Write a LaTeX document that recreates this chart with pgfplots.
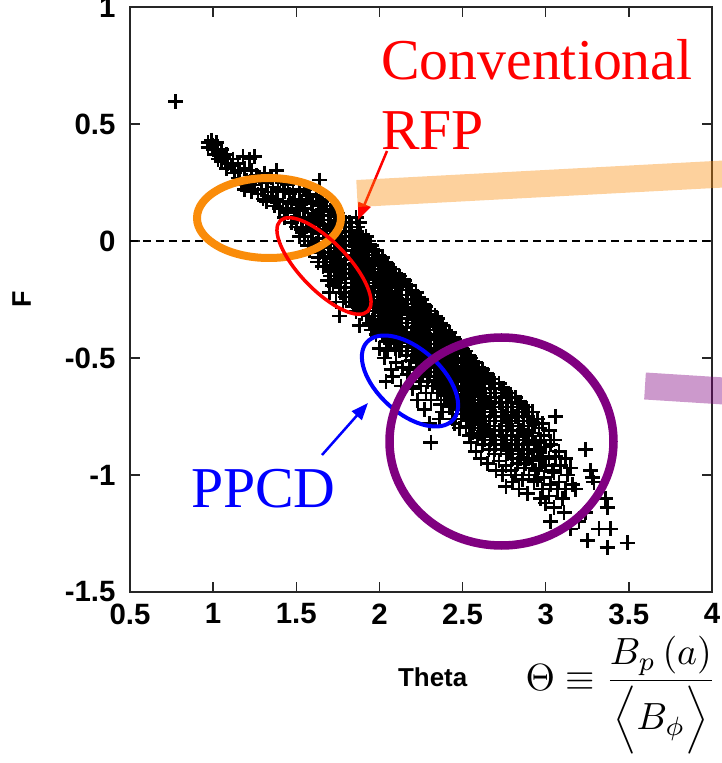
\documentclass[border=0pt]{standalone}
\usepackage{graphicx}
\usepackage{pgfplots}
\pgfplotsset{compat=1.18}
\usetikzlibrary{arrows.meta}
\usepackage{fontspec}
\setmainfont{Liberation Serif}
\newfontfamily\hv{Liberation Sans}
\definecolor{myorange}{RGB}{250,140,10}
\definecolor{mypurple}{RGB}{128,0,128}
\begin{document}
\begin{tikzpicture}[x=1bp,y=1bp]
\begin{axis}[
  name=ax, at={(0,0)}, anchor=south west,
  scale only axis, width=582bp, height=585bp,
  xmin=0.5, xmax=4, ymin=-1.5, ymax=1,
  xtick={0.5,1,1.5,2,2.5,3,3.5,4},
  ytick={-1.5,-1,-0.5,0,0.5,1},
  tick align=inside, major tick length=10bp,
  axis line style={line width=1.6bp, black!85},
  every tick/.style={line width=1.4bp, black!85},
  /pgf/number format/assume math mode=true,
  ticklabel style={font=\hv\bfseries\fontsize{29.5}{29.5}\selectfont},
  yticklabel style={xshift=-11bp},
  xticklabel style={yshift=-8bp},
  xlabel={Theta}, ylabel={F},
  xlabel style={font=\hv\bfseries\fontsize{26}{26}\selectfont, at={(axis description cs:0.52,-0.145)}, anchor=center},
  ylabel style={font=\hv\bfseries\fontsize{27}{27}\selectfont, at={(axis description cs:-0.186,0.5)}, anchor=center},
  clip=false,
]
\addplot[black, line width=1.3bp, dash pattern=on 8bp off 5bp] coordinates {(0.5,0) (4,0)};
\addplot[only marks, mark=+, mark size=7.5bp, mark options={line width=2.6bp, black}] coordinates {
(0.775,0.595)
(0.97,0.42) (0.97,0.40) (0.99,0.43)
(1.00,0.41) (1.00,0.39) (1.01,0.37)
(1.02,0.42) (1.03,0.38) (1.03,0.35)
(1.05,0.39) (1.06,0.36) (1.05,0.34)
(1.08,0.37) (1.09,0.33) (1.08,0.31)
(1.12,0.35) (1.11,0.32) (1.13,0.29)
(1.15,0.33) (1.16,0.30) (1.15,0.27) (1.17,0.24)
(1.18,0.36) (1.19,0.31) (1.20,0.26) (1.19,0.22)
(1.22,0.35) (1.23,0.30) (1.22,0.25) (1.23,0.21)
(1.25,0.36) (1.26,0.28) (1.25,0.24) (1.27,0.20)
(1.28,0.27) (1.29,0.22) (1.30,0.18)
(1.31,0.29) (1.32,0.25) (1.33,0.21) (1.32,0.17)
(1.35,0.27) (1.36,0.23) (1.35,0.19) (1.37,0.15)
(1.38,0.30) (1.39,0.22) (1.38,0.18) (1.40,0.14)
(1.42,0.25) (1.43,0.21) (1.42,0.17) (1.44,0.13) (1.43,0.10)
(1.45,0.24) (1.46,0.20) (1.47,0.16) (1.45,0.12) (1.47,0.08)
(1.48,0.22) (1.49,0.18) (1.50,0.14) (1.49,0.10) (1.50,0.06)
(1.52,0.21) (1.53,0.17) (1.52,0.13) (1.54,0.09) (1.53,0.05) (1.52,0.02)
(1.55,0.22) (1.56,0.18) (1.55,0.14) (1.57,0.10) (1.56,0.06) (1.55,0.02) (1.57,-0.02)
(1.58,0.20) (1.59,0.16) (1.60,0.12) (1.58,0.08) (1.60,0.04) (1.59,0.00) (1.58,-0.04)
(1.62,0.19) (1.63,0.15) (1.62,0.11) (1.64,0.07) (1.63,0.03) (1.62,-0.01) (1.64,-0.05) (1.63,-0.09)
(1.64,0.26) (1.65,0.17) (1.66,0.13) (1.65,0.09) (1.67,0.05) (1.66,0.01) (1.65,-0.03) (1.67,-0.07) (1.66,-0.11)
(1.68,0.15) (1.69,0.11) (1.70,0.07) (1.68,0.03) (1.70,-0.01) (1.69,-0.05) (1.68,-0.09) (1.70,-0.13) (1.69,-0.17) (1.70,-0.22)
(1.72,0.13) (1.73,0.09) (1.72,0.05) (1.74,0.01) (1.73,-0.03) (1.72,-0.07) (1.74,-0.11) (1.73,-0.15) (1.72,-0.19)
(1.75,0.12) (1.76,0.08) (1.77,0.04) (1.75,0.00) (1.77,-0.04) (1.76,-0.08) (1.75,-0.12) (1.77,-0.16) (1.76,-0.20) (1.74,-0.26)
(1.78,0.10) (1.79,0.06) (1.80,0.02) (1.78,-0.02) (1.80,-0.06) (1.79,-0.10) (1.78,-0.14) (1.80,-0.18) (1.79,-0.22) (1.78,-0.26) (1.76,-0.32)
(1.82,0.08) (1.83,0.04) (1.82,0.00) (1.84,-0.04) (1.83,-0.08) (1.82,-0.12) (1.84,-0.16) (1.83,-0.20) (1.82,-0.24) (1.84,-0.28)
(1.86,0.10) (1.87,0.06) (1.85,0.02) (1.87,-0.02) (1.86,-0.06) (1.85,-0.10) (1.87,-0.14) (1.86,-0.18) (1.85,-0.22) (1.87,-0.26) (1.86,-0.30)
(1.88,0.08) (1.89,0.03) (1.90,-0.01) (1.88,-0.05) (1.90,-0.09) (1.89,-0.13) (1.88,-0.17) (1.90,-0.21) (1.89,-0.25) (1.88,-0.29) (1.88,-0.36)
(1.92,0.02) (1.93,-0.02) (1.92,-0.06) (1.94,-0.10) (1.93,-0.14) (1.92,-0.18) (1.94,-0.22) (1.93,-0.26) (1.92,-0.30) (1.94,-0.35)
(1.95,-0.02) (1.96,-0.06) (1.97,-0.10) (1.95,-0.14) (1.97,-0.18) (1.96,-0.22) (1.95,-0.26) (1.97,-0.30) (1.96,-0.34) (1.95,-0.38)
(1.98,-0.04) (1.99,-0.08) (2.00,-0.12) (1.98,-0.16) (2.00,-0.20) (1.99,-0.24) (1.98,-0.28) (2.00,-0.32) (1.99,-0.36) (1.98,-0.40) (2.00,-0.46)
(2.02,-0.07) (2.03,-0.11) (2.02,-0.15) (2.04,-0.19) (2.03,-0.23) (2.02,-0.27) (2.04,-0.31) (2.03,-0.35) (2.02,-0.39) (2.04,-0.43) (2.03,-0.50) (2.04,-0.60)
(2.05,-0.10) (2.06,-0.14) (2.07,-0.18) (2.05,-0.22) (2.07,-0.26) (2.06,-0.30) (2.05,-0.34) (2.07,-0.38) (2.06,-0.42) (2.05,-0.47) (2.07,-0.55)
(2.08,-0.12) (2.09,-0.16) (2.10,-0.20) (2.08,-0.24) (2.10,-0.28) (2.09,-0.32) (2.08,-0.36) (2.10,-0.40) (2.09,-0.44) (2.10,-0.52) (2.08,-0.58)
(2.12,-0.15) (2.13,-0.19) (2.12,-0.23) (2.14,-0.27) (2.13,-0.31) (2.12,-0.35) (2.14,-0.39) (2.13,-0.43) (2.12,-0.47) (2.14,-0.54) (2.13,-0.62)
(2.15,-0.17) (2.16,-0.21) (2.17,-0.25) (2.15,-0.29) (2.17,-0.33) (2.16,-0.37) (2.15,-0.41) (2.17,-0.45) (2.16,-0.49) (2.17,-0.57)
(2.18,-0.19) (2.19,-0.23) (2.20,-0.27) (2.18,-0.31) (2.20,-0.35) (2.19,-0.39) (2.18,-0.43) (2.20,-0.47) (2.19,-0.51) (2.18,-0.55) (2.20,-0.63)
(2.22,-0.22) (2.23,-0.26) (2.22,-0.30) (2.24,-0.34) (2.23,-0.38) (2.22,-0.42) (2.24,-0.46) (2.23,-0.50) (2.22,-0.54) (2.24,-0.60) (2.23,-0.68)
(2.25,-0.25) (2.26,-0.29) (2.27,-0.33) (2.25,-0.37) (2.27,-0.41) (2.26,-0.45) (2.25,-0.49) (2.27,-0.53) (2.26,-0.57) (2.25,-0.62) (2.27,-0.72)
(2.28,-0.28) (2.29,-0.32) (2.30,-0.36) (2.28,-0.40) (2.30,-0.44) (2.29,-0.48) (2.28,-0.52) (2.30,-0.56) (2.29,-0.60) (2.28,-0.65) (2.30,-0.78)
(2.31,-0.30) (2.32,-0.34) (2.33,-0.38) (2.31,-0.42) (2.33,-0.46) (2.32,-0.50) (2.31,-0.54) (2.33,-0.58) (2.32,-0.62) (2.31,-0.68) (2.31,-0.86)
(2.35,-0.33) (2.36,-0.37) (2.35,-0.41) (2.37,-0.45) (2.36,-0.49) (2.35,-0.53) (2.37,-0.57) (2.36,-0.61) (2.35,-0.65) (2.37,-0.70) (2.36,-0.76)
(2.38,-0.36) (2.39,-0.40) (2.40,-0.44) (2.38,-0.48) (2.40,-0.52) (2.39,-0.56) (2.38,-0.60) (2.40,-0.64) (2.39,-0.68) (2.38,-0.73)
(2.42,-0.39) (2.43,-0.43) (2.42,-0.47) (2.44,-0.51) (2.43,-0.55) (2.42,-0.59) (2.44,-0.63) (2.43,-0.67) (2.42,-0.71) (2.44,-0.76)
(2.45,-0.42) (2.46,-0.46) (2.47,-0.50) (2.45,-0.54) (2.47,-0.58) (2.46,-0.62) (2.45,-0.66) (2.47,-0.70) (2.46,-0.74) (2.45,-0.78)
(2.48,-0.44) (2.49,-0.48) (2.50,-0.52) (2.48,-0.56) (2.50,-0.60) (2.49,-0.64) (2.48,-0.68) (2.50,-0.72) (2.49,-0.76) (2.48,-0.80)
(2.52,-0.47) (2.53,-0.51) (2.52,-0.55) (2.54,-0.59) (2.53,-0.63) (2.52,-0.67) (2.54,-0.71) (2.53,-0.75) (2.52,-0.79) (2.54,-0.83)
(2.55,-0.50) (2.56,-0.54) (2.57,-0.58) (2.55,-0.62) (2.57,-0.66) (2.56,-0.70) (2.55,-0.74) (2.57,-0.78) (2.56,-0.82) (2.55,-0.86)
(2.58,-0.52) (2.59,-0.56) (2.60,-0.60) (2.58,-0.64) (2.60,-0.68) (2.59,-0.72) (2.58,-0.76) (2.60,-0.80) (2.59,-0.84) (2.58,-0.90)
(2.62,-0.55) (2.63,-0.59) (2.62,-0.63) (2.64,-0.67) (2.63,-0.71) (2.62,-0.75) (2.64,-0.79) (2.63,-0.83) (2.62,-0.87) (2.61,-0.93)
(2.65,-0.57) (2.66,-0.61) (2.67,-0.65) (2.65,-0.69) (2.67,-0.73) (2.66,-0.77) (2.65,-0.81) (2.67,-0.85) (2.66,-0.89) (2.65,-0.95)
(2.68,-0.59) (2.69,-0.63) (2.70,-0.67) (2.68,-0.71) (2.70,-0.75) (2.69,-0.79) (2.68,-0.83) (2.70,-0.87) (2.69,-0.91) (2.70,-0.98)
(2.72,-0.61) (2.73,-0.65) (2.72,-0.69) (2.74,-0.73) (2.73,-0.77) (2.72,-0.81) (2.74,-0.85) (2.73,-0.89) (2.72,-0.94) (2.74,-1.00)
(2.75,-0.63) (2.76,-0.67) (2.77,-0.71) (2.75,-0.75) (2.77,-0.79) (2.76,-0.83) (2.75,-0.87) (2.77,-0.91) (2.76,-0.96) (2.76,-1.05)
(2.78,-0.65) (2.79,-0.69) (2.80,-0.73) (2.78,-0.77) (2.80,-0.81) (2.79,-0.85) (2.78,-0.89) (2.80,-0.93) (2.79,-0.98) (2.80,-1.03)
(2.82,-0.67) (2.83,-0.71) (2.82,-0.75) (2.84,-0.79) (2.83,-0.83) (2.82,-0.87) (2.84,-0.91) (2.83,-0.95) (2.82,-1.00) (2.84,-1.06)
(2.85,-0.69) (2.86,-0.73) (2.87,-0.77) (2.85,-0.81) (2.87,-0.85) (2.86,-0.89) (2.85,-0.93) (2.87,-0.97) (2.86,-1.02)
(2.88,-0.71) (2.89,-0.75) (2.90,-0.79) (2.88,-0.83) (2.90,-0.87) (2.89,-0.91) (2.88,-0.95) (2.90,-1.00) (2.89,-1.08)
(2.92,-0.73) (2.93,-0.78) (2.92,-0.82) (2.94,-0.86) (2.93,-0.90) (2.92,-0.94) (2.94,-0.98) (2.93,-1.03)
(2.95,-0.76) (2.96,-0.80) (2.97,-0.85) (2.95,-0.89) (2.97,-0.93) (2.96,-0.97) (2.95,-1.02) (2.97,-1.10)
(2.98,-0.78) (2.99,-0.83) (3.00,-0.88) (2.98,-0.92) (3.00,-0.96) (2.99,-1.01) (2.98,-1.06) (3.00,-1.12)
(3.02,-0.81) (3.03,-0.87) (3.02,-0.93) (3.04,-0.98) (3.03,-1.04) (3.02,-1.09)
(3.06,-0.75) (3.05,-0.85) (3.06,-0.92) (3.05,-0.99) (3.07,-1.06) (3.05,-1.14) (3.03,-1.20)
(3.08,-0.90) (3.09,-0.96) (3.08,-1.03) (3.10,-1.10)
(3.12,-0.93) (3.13,-1.00) (3.12,-1.06) (3.11,-1.16)
(3.15,-0.97) (3.16,-1.04) (3.15,-1.23)
(3.18,-1.06) (3.20,-1.20)
(3.24,-0.89) (3.27,-0.98) (3.29,-1.03) (3.28,-1.01) (3.24,-1.16) (3.25,-1.28) (3.32,-1.23) (3.36,-1.10) (3.37,-1.14) (3.39,-1.23) (3.37,-1.31) (3.49,-1.29)
};
\addplot[only marks, mark=+, mark size=7.5bp, mark options={line width=2.6bp, black}] coordinates {
(1.635,0.17) (1.635,0.13) (1.635,0.09) (1.635,0.05) (1.635,0.01) (1.635,-0.03) (1.635,-0.07)
(1.665,0.15) (1.665,0.11) (1.665,0.07) (1.665,0.03) (1.665,-0.01) (1.665,-0.05) (1.665,-0.09)
(1.705,0.13) (1.705,0.09) (1.705,0.05) (1.705,0.01) (1.705,-0.03) (1.705,-0.07) (1.705,-0.11) (1.705,-0.15)
(1.735,0.11) (1.735,0.07) (1.735,0.03) (1.735,-0.01) (1.735,-0.05) (1.735,-0.09) (1.735,-0.13) (1.735,-0.17)
(1.765,0.10) (1.765,0.06) (1.765,0.02) (1.765,-0.02) (1.765,-0.06) (1.765,-0.10) (1.765,-0.14) (1.765,-0.18) (1.765,-0.22)
(1.795,0.08) (1.795,0.04) (1.795,0.00) (1.795,-0.04) (1.795,-0.08) (1.795,-0.12) (1.795,-0.16) (1.795,-0.20) (1.795,-0.24)
(1.835,0.06) (1.835,0.02) (1.835,-0.02) (1.835,-0.06) (1.835,-0.10) (1.835,-0.14) (1.835,-0.18) (1.835,-0.22) (1.835,-0.26)
(1.865,0.04) (1.865,0.00) (1.865,-0.04) (1.865,-0.08) (1.865,-0.12) (1.865,-0.16) (1.865,-0.20) (1.865,-0.24) (1.865,-0.28)
(1.895,0.01) (1.895,-0.03) (1.895,-0.07) (1.895,-0.11) (1.895,-0.15) (1.895,-0.19) (1.895,-0.23) (1.895,-0.27) (1.895,-0.31)
(1.935,0.00) (1.935,-0.04) (1.935,-0.08) (1.935,-0.12) (1.935,-0.16) (1.935,-0.20) (1.935,-0.24) (1.935,-0.28) (1.935,-0.32)
(1.965,-0.04) (1.965,-0.08) (1.965,-0.12) (1.965,-0.16) (1.965,-0.20) (1.965,-0.24) (1.965,-0.28) (1.965,-0.32) (1.965,-0.36)
(1.995,-0.06) (1.995,-0.10) (1.995,-0.14) (1.995,-0.18) (1.995,-0.22) (1.995,-0.26) (1.995,-0.30) (1.995,-0.34) (1.995,-0.38)
(2.035,-0.09) (2.035,-0.13) (2.035,-0.17) (2.035,-0.21) (2.035,-0.25) (2.035,-0.29) (2.035,-0.33) (2.035,-0.37) (2.035,-0.41)
(2.065,-0.12) (2.065,-0.16) (2.065,-0.20) (2.065,-0.24) (2.065,-0.28) (2.065,-0.32) (2.065,-0.36) (2.065,-0.40) (2.065,-0.44)
(2.095,-0.14) (2.095,-0.18) (2.095,-0.22) (2.095,-0.26) (2.095,-0.30) (2.095,-0.34) (2.095,-0.38) (2.095,-0.42) (2.095,-0.46)
(2.135,-0.17) (2.135,-0.21) (2.135,-0.25) (2.135,-0.29) (2.135,-0.33) (2.135,-0.37) (2.135,-0.41) (2.135,-0.45)
(2.165,-0.19) (2.165,-0.23) (2.165,-0.27) (2.165,-0.31) (2.165,-0.35) (2.165,-0.39) (2.165,-0.43) (2.165,-0.47)
(2.195,-0.21) (2.195,-0.25) (2.195,-0.29) (2.195,-0.33) (2.195,-0.37) (2.195,-0.41) (2.195,-0.45) (2.195,-0.49)
(2.235,-0.24) (2.235,-0.28) (2.235,-0.32) (2.235,-0.36) (2.235,-0.40) (2.235,-0.44) (2.235,-0.48) (2.235,-0.52)
(2.265,-0.27) (2.265,-0.31) (2.265,-0.35) (2.265,-0.39) (2.265,-0.43) (2.265,-0.47) (2.265,-0.51) (2.265,-0.55)
(2.295,-0.30) (2.295,-0.34) (2.295,-0.38) (2.295,-0.42) (2.295,-0.46) (2.295,-0.50) (2.295,-0.54) (2.295,-0.58)
(2.335,-0.32) (2.335,-0.36) (2.335,-0.40) (2.335,-0.44) (2.335,-0.48) (2.335,-0.52) (2.335,-0.56) (2.335,-0.60)
(2.365,-0.35) (2.365,-0.39) (2.365,-0.43) (2.365,-0.47) (2.365,-0.51) (2.365,-0.55) (2.365,-0.59) (2.365,-0.63)
(2.395,-0.38) (2.395,-0.42) (2.395,-0.46) (2.395,-0.50) (2.395,-0.54) (2.395,-0.58) (2.395,-0.62) (2.395,-0.66)
(2.435,-0.41) (2.435,-0.45) (2.435,-0.49) (2.435,-0.53) (2.435,-0.57) (2.435,-0.61) (2.435,-0.65) (2.435,-0.69)
(2.465,-0.44) (2.465,-0.48) (2.465,-0.52) (2.465,-0.56) (2.465,-0.60) (2.465,-0.64) (2.465,-0.68) (2.465,-0.72)
(2.495,-0.46) (2.495,-0.50) (2.495,-0.54) (2.495,-0.58) (2.495,-0.62) (2.495,-0.66) (2.495,-0.70) (2.495,-0.74)
(2.535,-0.49) (2.535,-0.53) (2.535,-0.57) (2.535,-0.61) (2.535,-0.65) (2.535,-0.69) (2.535,-0.73) (2.535,-0.77)
(2.565,-0.52) (2.565,-0.56) (2.565,-0.60) (2.565,-0.64) (2.565,-0.68) (2.565,-0.72) (2.565,-0.76) (2.565,-0.80)
(2.595,-0.54) (2.595,-0.58) (2.595,-0.62) (2.595,-0.66) (2.595,-0.70) (2.595,-0.74) (2.595,-0.78) (2.595,-0.82)
(2.635,-0.57) (2.635,-0.61) (2.635,-0.65) (2.635,-0.69) (2.635,-0.73) (2.635,-0.77) (2.635,-0.81) (2.635,-0.85)
(2.665,-0.59) (2.665,-0.63) (2.665,-0.67) (2.665,-0.71) (2.665,-0.75) (2.665,-0.79) (2.665,-0.83) (2.665,-0.87)
(2.695,-0.61) (2.695,-0.65) (2.695,-0.69) (2.695,-0.73) (2.695,-0.77) (2.695,-0.81) (2.695,-0.85) (2.695,-0.89)
(2.735,-0.63) (2.735,-0.67) (2.735,-0.71) (2.735,-0.75) (2.735,-0.79) (2.735,-0.83) (2.735,-0.87)
(2.765,-0.65) (2.765,-0.69) (2.765,-0.73) (2.765,-0.77) (2.765,-0.81) (2.765,-0.85) (2.765,-0.89)
(2.795,-0.67) (2.795,-0.71) (2.795,-0.75) (2.795,-0.79) (2.795,-0.83) (2.795,-0.87) (2.795,-0.91)
(2.835,-0.69) (2.835,-0.73) (2.835,-0.77) (2.835,-0.81) (2.835,-0.85) (2.835,-0.89)
(2.865,-0.71) (2.865,-0.75) (2.865,-0.79) (2.865,-0.83) (2.865,-0.87) (2.865,-0.91)
(2.895,-0.73) (2.895,-0.77) (2.895,-0.81) (2.895,-0.85) (2.895,-0.89) (2.895,-0.93)
};
\end{axis}
% annotations (coordinates in bp, origin at lower-left of the axis box)
\draw[myorange, line width=8bp] (139,374) ellipse [x radius=72bp, y radius=40bp];
\draw[red, line width=3.5bp, rotate around={-46:(194,326)}] (194,326) ellipse [x radius=63bp, y radius=24bp];
\draw[blue, line width=4bp, rotate around={-42:(280,211)}] (280,211) ellipse [x radius=58bp, y radius=32bp];
\draw[mypurple, line width=8.5bp] (371.5,150.5) ellipse [x radius=112bp, y radius=104bp];
\draw[red, line width=2.5bp, -{Triangle[length=17bp,width=13bp]}] (257,441) -- (228,372);
\draw[blue, line width=2.5bp, -{Triangle[length=17bp,width=13bp]}] (192,137) -- (238,189);
\draw[myorange, opacity=0.4, line width=27bp] (227,398.5) -- (594,418);
\draw[mypurple, opacity=0.4, line width=27bp] (515,206) -- (594,201);
\node[red, anchor=base west, inner sep=0pt, font=\fontsize{58}{58}\selectfont] at (251,512) {Conventional};
\node[red, anchor=base west, inner sep=0pt, font=\fontsize{58}{58}\selectfont] at (251,442) {RFP};
\node[blue, anchor=base west, inner sep=0pt, font=\fontsize{58}{58}\selectfont] at (61,84) {PPCD};
\node[anchor=center, inner sep=0pt] at (491,-103) {\scalebox{3.8}{$\displaystyle \Theta \equiv \frac{B_{p}\,(a)}{\Bigl\langle B_{\phi} \Bigr\rangle}$}};
\pgfresetboundingbox
\path[use as bounding box] (-130,-171) rectangle (592,592);
\end{tikzpicture}
\end{document}
